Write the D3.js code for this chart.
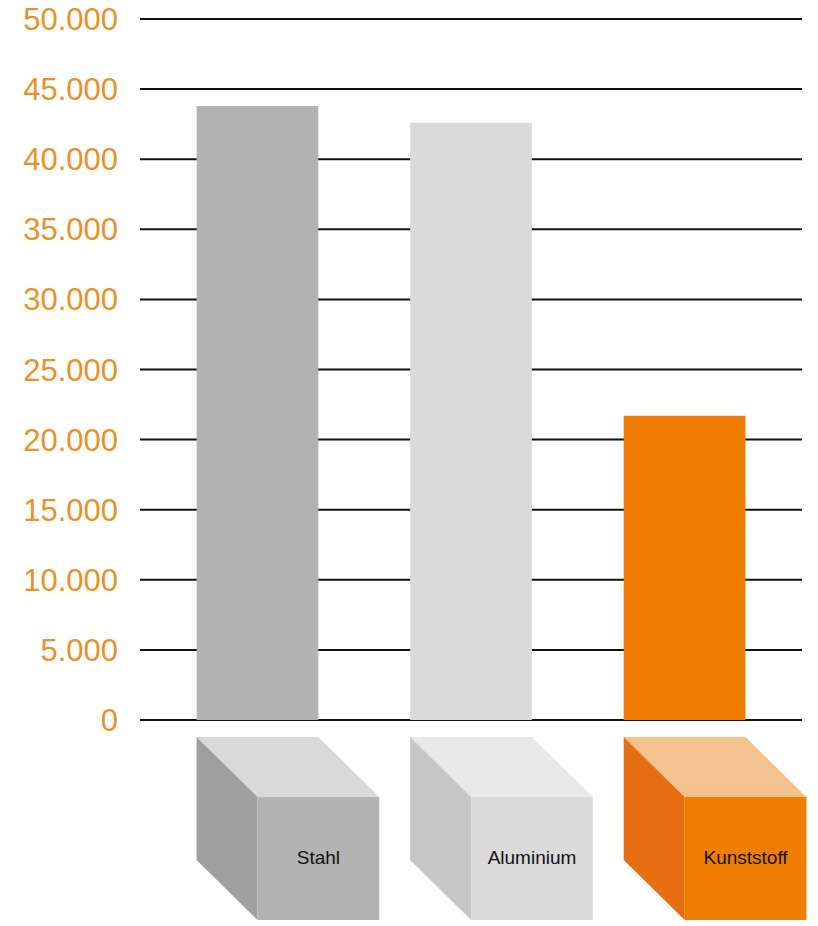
<!DOCTYPE html>
<html><head><meta charset="utf-8">
<script src="https://cdn.jsdelivr.net/npm/d3@7"></script>
<style>body{margin:0;background:#fff}</style></head>
<body><svg id="c" width="818" height="926"></svg>
<script>
const categories = ["Stahl","Aluminium","Kunststoff"];
const values = [43800,42600,21700];
const ticks = [0,5000,10000,15000,20000,25000,30000,35000,40000,45000,50000];
const barColors = ["#b3b3b3","#dadada","#ef7d00"];
const topColors = ["#d9d9d9","#e8e8e8","#f3c18e"];
const sideColors = ["#9f9f9f","#c6c6c6","#e56f12"];

const svg = d3.select("#c");
const y = d3.scaleLinear().domain([0,50000]).range([720,19]);
const x = d3.scaleBand().domain(categories).range([140,802]).paddingInner(0.43).paddingOuter(0.265);
const fmt = d => d3.format(",")(d).replace(/,/g,".");

svg.append("g").selectAll("line").data(ticks).join("line")
  .attr("x1",140).attr("x2",802).attr("y1",d=>y(d)).attr("y2",d=>y(d))
  .attr("stroke","#111").attr("stroke-width",2);
svg.append("g").selectAll("text").data(ticks).join("text")
  .attr("x",118).attr("y",d=>y(d)+11).attr("text-anchor","end")
  .attr("font-family","Liberation Sans, Arial, sans-serif").attr("font-size",31)
  .attr("fill","#e8912a").text(fmt);

svg.append("g").selectAll("rect").data(categories).join("rect")
  .attr("x",d=>x(d)).attr("width",x.bandwidth())
  .attr("y",(d,i)=>y(values[i])).attr("height",(d,i)=>y(0)-y(values[i]))
  .attr("fill",(d,i)=>barColors[i]);

const cdx=61, ctop=737, cdy=60, ch=123;
const g = svg.append("g");
categories.forEach((c,i)=>{
  const x0=x(c), w=x.bandwidth();
  g.append("polygon").attr("points",`${x0},${ctop} ${x0+w},${ctop} ${x0+w+cdx},${ctop+cdy} ${x0+cdx},${ctop+cdy}`).attr("fill",topColors[i]);
  g.append("polygon").attr("points",`${x0},${ctop} ${x0+cdx},${ctop+cdy} ${x0+cdx},${ctop+cdy+ch} ${x0},${ctop+ch}`).attr("fill",sideColors[i]);
  g.append("rect").attr("x",x0+cdx).attr("y",ctop+cdy).attr("width",w).attr("height",ch).attr("fill",barColors[i]);
  g.append("text").attr("x",x0+cdx+w/2).attr("y",ctop+cdy+67).attr("text-anchor","middle")
    .attr("font-family","Liberation Sans, Arial, sans-serif").attr("font-size",19).attr("fill","#111").text(c);
});
</script></body></html>
